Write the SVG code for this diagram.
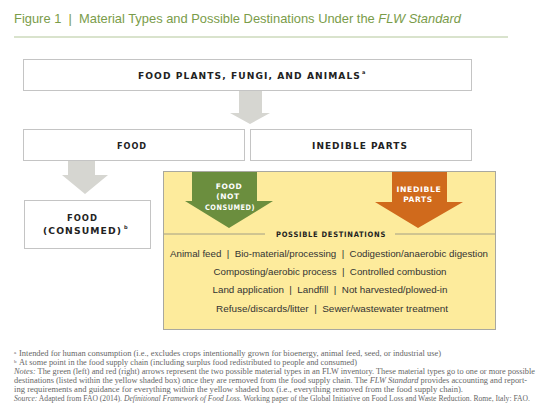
<svg xmlns="http://www.w3.org/2000/svg" width="550" height="416" viewBox="0 0 550 416">
<defs>
<style>
.box{fill:#fff;stroke:#c4c4c4;stroke-width:1}
.lbl{font-family:"DejaVu Sans",Arial,sans-serif;font-weight:bold;font-size:8.5px;letter-spacing:1px;fill:#222}
.wl{font-family:"DejaVu Sans",Arial,sans-serif;font-weight:bold;font-size:7.5px;letter-spacing:0.6px;fill:#fff;text-anchor:middle}
.dest{font-family:"Liberation Sans",Arial,sans-serif;font-size:9.5px;fill:#333;text-anchor:middle}
.fn{font-family:"Liberation Serif","Times New Roman",serif;font-size:7.5px;fill:#666}
.sup{font-size:5px}
.garrow{fill:#d6d6d1}
</style>
</defs>
<rect width="550" height="416" fill="#fff"/>
<text x="14" y="23" font-family="Liberation Sans,Arial,sans-serif" font-size="13" fill="#7a9c4a" textLength="447" lengthAdjust="spacingAndGlyphs">Figure 1&#160;&#160;|&#160;&#160;Material Types and Possible Destinations Under the <tspan font-style="italic">FLW Standard</tspan></text>
<line x1="14" y1="37" x2="508" y2="37" stroke="#b3c79a" stroke-width="1"/>

<g id="connectors">
<polygon class="garrow" points="239,91 262,91 262,113 270,113 250,124 230,113 239,113"/>
<polygon class="garrow" points="68,161 95,161 95,175 108,175 85,194 62,175 68,175"/>
</g>

<g id="node-top">
<rect class="box" x="23.5" y="59.5" width="448" height="31"/>
<text class="lbl" x="138" y="79" textLength="223" lengthAdjust="spacingAndGlyphs">FOOD PLANTS, FUNGI, AND ANIMALS</text>
<text class="lbl" x="362" y="74" style="font-size:5px;letter-spacing:0">a</text>
</g>

<g id="node-food">
<rect class="box" x="23.5" y="129.5" width="221" height="31"/>
<text class="lbl" x="117" y="149" textLength="30" lengthAdjust="spacingAndGlyphs">FOOD</text>
</g>

<g id="node-inedible">
<rect class="box" x="250.5" y="129.5" width="221" height="31"/>
<text class="lbl" x="312" y="149" textLength="96" lengthAdjust="spacingAndGlyphs">INEDIBLE PARTS</text>
</g>

<g id="node-consumed">
<rect class="box" x="24.5" y="200.5" width="126" height="48"/>
<text class="lbl" x="67" y="221" textLength="31" lengthAdjust="spacingAndGlyphs">FOOD</text>
<text class="lbl" x="43" y="234" textLength="79" lengthAdjust="spacingAndGlyphs">(CONSUMED)</text>
<text class="lbl" x="124" y="229" style="font-size:5px;letter-spacing:0">b</text>
</g>

<g id="node-destinations">
<rect x="163.5" y="171.5" width="332" height="158" fill="#fdeb9c" stroke="#a8a8a0" stroke-width="1"/>
<line x1="164" y1="234" x2="265" y2="234" stroke="#8a8a80" stroke-width="0.8"/>
<line x1="395" y1="234" x2="495" y2="234" stroke="#8a8a80" stroke-width="0.8"/>
<text class="lbl" x="276" y="237" textLength="110" lengthAdjust="spacingAndGlyphs" style="font-size:7.5px;letter-spacing:0.8px">POSSIBLE DESTINATIONS</text>
<text class="dest" x="329" y="257" textLength="318" lengthAdjust="spacingAndGlyphs">Animal feed&#160;&#160;|&#160;&#160;Bio-material/processing&#160;&#160;|&#160;&#160;Codigestion/anaerobic digestion</text>
<text class="dest" x="330" y="275" textLength="233" lengthAdjust="spacingAndGlyphs">Composting/aerobic process&#160;&#160;|&#160;&#160;Controlled combustion</text>
<text class="dest" x="330" y="293" textLength="235" lengthAdjust="spacingAndGlyphs">Land application&#160;&#160;|&#160;&#160;Landfill&#160;&#160;|&#160;&#160;Not harvested/plowed-in</text>
<text class="dest" x="332" y="312" textLength="232" lengthAdjust="spacingAndGlyphs">Refuse/discards/litter&#160;&#160;|&#160;&#160;Sewer/wastewater treatment</text>
</g>

<g id="node-green-arrow">
<polygon points="192,172 257,172 257,201 273,201 229,228 185,201 192,201" fill="#6b8e3e"/>
<text class="wl" x="229" y="189">FOOD</text>
<text class="wl" x="228" y="199">(NOT</text>
<text class="wl" x="230" y="210" textLength="50" lengthAdjust="spacingAndGlyphs">CONSUMED)</text>
</g>

<g id="node-orange-arrow">
<polygon points="392,172 447,172 447,202 463,202 418,228 375,202 392,202" fill="#d06a1c"/>
<text class="wl" x="419" y="192" textLength="45" lengthAdjust="spacingAndGlyphs">INEDIBLE</text>
<text class="wl" x="418" y="202">PARTS</text>
</g>

<g id="footnotes">
<text class="fn" x="14" y="356"><tspan class="sup" dy="-2.5">a</tspan><tspan dy="2.5" x="19" textLength="422" lengthAdjust="spacingAndGlyphs">Intended for human consumption (i.e., excludes crops intentionally grown for bioenergy, animal feed, seed, or industrial use)</tspan></text>
<text class="fn" x="14" y="365"><tspan class="sup" dy="-2.5">b</tspan><tspan dy="2.5" x="19" textLength="338" lengthAdjust="spacingAndGlyphs">At some point in the food supply chain (including surplus food redistributed to people and consumed)</tspan></text>
<text class="fn" x="14" y="374" textLength="521" lengthAdjust="spacingAndGlyphs"><tspan font-style="italic">Notes:</tspan> The green (left) and red (right) arrows represent the two possible material types in an FLW inventory. These material types go to one or more possible</text>
<text class="fn" x="14" y="383" textLength="513" lengthAdjust="spacingAndGlyphs">destinations (listed within the yellow shaded box) once they are removed from the food supply chain. The <tspan font-style="italic">FLW Standard</tspan> provides accounting and report-</text>
<text class="fn" x="14" y="392" textLength="449" lengthAdjust="spacingAndGlyphs">ing requirements and guidance for everything within the yellow shaded box (i.e., everything removed from the food supply chain).</text>
<text class="fn" x="14" y="401" textLength="516" lengthAdjust="spacingAndGlyphs"><tspan font-style="italic">Source:</tspan> Adapted from FAO (2014). <tspan font-style="italic">Definitional Framework of Food Loss.</tspan> Working paper of the Global Initiative on Food Loss and Waste Reduction. Rome, Italy: FAO.</text>
</g>
</svg>
